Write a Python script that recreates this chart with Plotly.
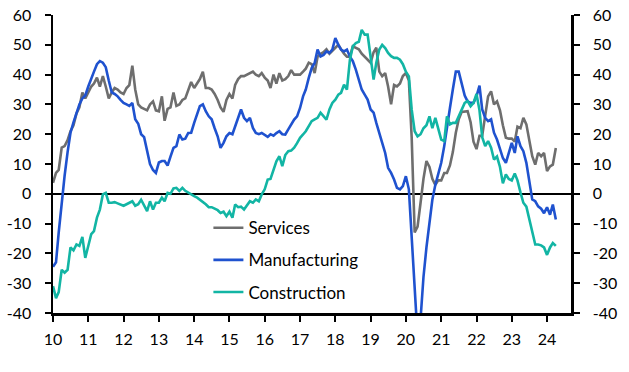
import pandas as pd
import plotly.graph_objects as go

# Monthly balances, Jan 2010 - Apr 2024
services = [
    3.7, 7, 8, 15.5, 16, 18, 21, 23, 27, 29, 34, 32,            # 2010
    34, 36, 37, 39, 36, 39.5, 36, 32, 34, 35.5, 35, 34,         # 2011
    33.5, 35.5, 36.5, 43, 35, 30, 29, 28.5, 28, 30, 31, 28,     # 2012
    27.7, 32.7, 24.5, 28.5, 29, 34, 29.5, 30, 31.5, 32, 35, 37.5,  # 2013
    35.5, 37, 38.5, 41, 35.5, 35.5, 35, 33.5, 31.5, 29, 27.5, 31.5,  # 2014
    33.5, 32, 36.5, 38.5, 39.5, 39.5, 40, 40.5, 41, 40, 39.5, 40.5,  # 2015
    39, 38, 35.5, 40, 37, 40.5, 38, 38.5, 39.5, 41.5, 40, 40,   # 2016
    40, 41, 42, 44, 43.5, 40.5, 46, 47, 47.5, 48.5, 47, 48,     # 2017
    49, 50, 48.5, 47, 46, 46, 49.5, 49, 48.5, 47, 46, 45,       # 2018
    44, 47.5, 49, 41, 39.5, 40.5, 36, 30, 36.5, 36, 37, 39.5,   # 2019
    40.5, 38, 19, -13, -11, -3, 5, 11, 9, 5, 3, 4.5,            # 2020
    4.5, 7, 7, 9.5, 14, 20.5, 25, 27.5, 27.7, 27.7, 24, 17.5,   # 2021
    15, 19.5, 19.5, 26, 32.7, 34.4, 30, 31, 28, 23, 18.8, 18.5, # 2022
    18.5, 17.5, 22.5, 22, 25.5, 23.3, 18.2, 12.6, 9.8, 13.7, 12.6, 13.7,  # 2023
    7.6, 9.2, 9.8, 15.4,                                        # 2024
]
manufacturing = [
    -24.5, -23, -13, -2, 6, 14, 20.5, 24, 27, 30, 32, 33,       # 2010
    36, 39, 41, 43.5, 44.5, 44, 42.5, 38, 34, 33.5, 32.7, 31.5, # 2011
    30.5, 30, 29.5, 30.5, 25, 23.5, 20, 19, 14.5, 10, 8, 7,     # 2012
    10.5, 11, 11, 9.5, 12.5, 15.4, 16, 19.9, 18.2, 18.5, 20.4, 20.5,  # 2013
    23.8, 27.2, 29.4, 30, 27.7, 26, 25, 22, 19.3, 15.4, 17.1, 19.3,  # 2014
    20.4, 20, 22.7, 25.5, 28.3, 25.5, 24.4, 25.5, 22.1, 20.4, 20, 20.4,  # 2015
    19.6, 19.1, 20, 19.5, 20.4, 21, 20, 19.9, 21.6, 23.2, 24.9, 26,  # 2016
    28.8, 32.7, 35, 38.9, 42.2, 43.9, 48.4, 46.1, 46.6, 47.8, 47.3, 48.4,  # 2017
    52.3, 50, 48.4, 47.8, 48.4, 46, 44.5, 41.7, 37.8, 35, 33.3, 31.6,  # 2018
    28.3, 27.2, 23.8, 19.9, 17.1, 13.7, 8.7, 7, 4.8, 2, 1.5, 2.6,  # 2019
    5.9, 1.5, -14, -30, -48, -42, -28, -18, -9, -2, 3, 6.5,     # 2020
    10.4, 16, 22.7, 28.8, 35, 41, 41, 37, 33, 31, 30.5, 30.5,   # 2021
    32.7, 36.3, 28.3, 25.5, 24.4, 25, 20.5, 18.2, 14.9, 12, 10.4, 13.7,  # 2022
    17.1, 13.7, 19.3, 16, 14.3, 10.4, 4.8, -1.9, -2.5, -4.2, -5, -6.5,  # 2023
    -4.5, -7, -3.6, -8.6,                                       # 2024
]
construction = [
    -31, -35, -33, -25.5, -26.5, -25.5, -18, -19, -17, -17.5, -14.5, -21.5,  # 2010
    -17.5, -13.5, -12.5, -8, -5.3, -0.2, 0.3, -3, -3, -2.8, -3.2, -3.6,  # 2011
    -4, -3.5, -3, -2.5, -4, -3.5, -2, -4, -5.8, -2.5, -5.3, -3,  # 2012
    -3, -1.3, -2.5, 0.3, 0, 1.8, 2, 1, 2, 1, 0.3, -0.2,          # 2013
    -0.8, -1.3, -2, -2.5, -3.5, -4.5, -4.5, -5, -5.5, -6.4, -6, -7.5,  # 2014
    -6, -8, -3.6, -4.5, -4.3, -5.3, -4, -2.5, -3, -1.9, -2.5, -0.2,  # 2015
    1.5, 4.8, 5, 8.2, 10.9, 12.6, 9.3, 13, 14.3, 14.5, 15.5, 17,  # 2016
    18.8, 19.9, 21, 22.7, 24.4, 25, 25.5, 27.2, 26, 24.9, 28.3, 30.5,  # 2017
    31.6, 33.3, 33.9, 36.6, 35, 45, 49.5, 50.6, 51, 55, 53.4, 53.4,  # 2018
    46, 38.3, 44, 48.4, 50, 48.9, 47.3, 46.2, 45.6, 45.6, 45, 43.5,  # 2019
    41, 39.4, 28.3, 21, 19.3, 20, 22, 23, 26, 22, 25.5, 22.1,    # 2020
    18.2, 17.7, 26, 23.3, 23.8, 23.8, 26, 28.3, 30.5, 31.1, 29.4, 30.5,  # 2021
    33.5, 28, 19, 16, 17.7, 15.5, 11.5, 12.5, 9, 3.5, 6.5, 5,    # 2022
    4.5, 6.8, 4.5, 0.5, -3, -4.3, -8.6, -13, -17, -17, -17.3, -18,  # 2023
    -20.5, -18, -16.5, -17.5,                                   # 2024
]

series_names = ["Services", "Manufacturing", "Construction"]
series_colors = ["#6E6E6E", "#1F52CF", "#12B5A4"]
y_tick_vals = [-40, -30, -20, -10, 0, 10, 20, 30, 40, 50, 60]
y_tick_text = ["-40", "-30", "-20", "-10", "0", "10", "20", "30", "40", "50", "60"]

dates = pd.date_range("2010-01-01", periods=len(services), freq="MS")

fig = go.Figure()
for name, vals, col in zip(series_names, [services, manufacturing, construction], series_colors):
    fig.add_trace(go.Scatter(x=dates, y=vals, mode="lines", name=name,
                             legendgroup=name,
                             line=dict(color=col, width=2.6)))

# invisible helper trace so the right-hand axis is drawn
fig.add_trace(go.Scatter(x=[dates[0]], y=[None], yaxis="y2", mode="lines",
                         showlegend=False, hoverinfo="skip"))

font_family = "Lato, 'Open Sans', sans-serif"

axis_common = dict(showgrid=False, showline=True, linecolor="black", linewidth=2.5,
                   ticks="outside", ticklen=6, tickwidth=2, tickcolor="black",
                   automargin=False, ticklabeloverflow="allow",
                   tickfont=dict(size=16, color="black"))

fig.update_layout(
    width=629, height=372,
    margin=dict(l=53, r=58, t=15, b=59, autoexpand=False),
    paper_bgcolor="white", plot_bgcolor="white",
    font=dict(family=font_family, size=16, color="black"),
    showlegend=True,
    legend=dict(x=0.30, y=0.345, xanchor="left", yanchor="top",
                bgcolor="rgba(0,0,0,0)", tracegroupgap=7,
                font=dict(size=17, family=font_family)),
    xaxis=dict(type="date", range=["2010-01-01", "2024-09-05"],
               tick0="2010-01-01", dtick="M12", tickformat="%y",
               zeroline=False, ticklabelstandoff=4, **axis_common),
    yaxis=dict(range=[-40, 60], tickvals=y_tick_vals, ticktext=y_tick_text,
               zeroline=True, zerolinecolor="black", zerolinewidth=2.5,
               ticklabelstandoff=10, **axis_common),
    yaxis2=dict(range=[-40, 60], tickvals=y_tick_vals, ticktext=y_tick_text,
                overlaying="y", side="right", zeroline=False,
                ticklabelstandoff=10, **axis_common),
)

# remove the default page margin so the chart sits at the window's top-left corner
fig.write_html("out.html",
               config={"displayModeBar": False, "staticPlot": True},
               post_script="document.body.style.margin='0';document.body.style.overflow='hidden';")
